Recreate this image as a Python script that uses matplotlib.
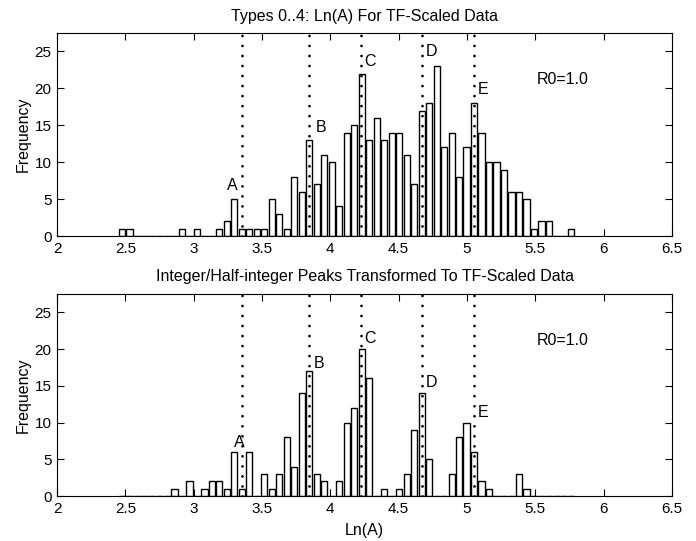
import numpy as np
import matplotlib
matplotlib.use("Agg")
import matplotlib.pyplot as plt

plt.rcParams['font.family'] = ['Liberation Sans', 'DejaVu Sans']

# bin grid (hist bin centers)
bin_start = 2.476
bin_width = 0.0548
n_bins = 61

# top panel: Types 0..4
top_counts = [1, 1, 0, 0, 0, 0, 0, 0, 1, 0, 1, 0, 0,
              1, 2, 5, 1, 1, 1, 1, 5, 3, 1, 8, 6, 13, 7, 11, 10, 4, 14, 15, 22, 13, 16,
              13, 14, 14, 11, 7, 17, 18, 23, 12, 14, 8, 12, 18, 14, 10, 10, 9, 6, 6, 5,
              1, 2, 2, 0, 0, 1]

# bottom panel: integer/half-integer peaks
bottom_counts = [0, 0, 0, 0, 0, 0, 0, 1, 0, 2, 0, 1, 2,
                 2, 1, 6, 1, 6, 0, 3, 1, 3, 8, 4, 14, 17, 3, 2, 0, 2, 10, 12, 20, 16,
                 0, 1, 0, 1, 3, 9, 14, 5, 0, 0, 3, 8, 10, 6, 2, 1, 0, 0, 0, 3, 1,
                 0, 0, 0, 0, 0, 0]

peak_x = [3.352, 3.846, 4.227, 4.668, 5.050]
peak_names = ['A', 'B', 'C', 'D', 'E']

top_label_x = [3.285, 3.931, 4.289, 4.741, 5.118]
top_label_y = [6.9, 14.7, 23.7, 25.0, 19.9]
bottom_label_x = [3.332, 3.914, 4.289, 4.741, 5.118]
bottom_label_y = [7.3, 18.1, 21.5, 15.4, 11.4]

titles = ["Types 0..4: Ln(A) For TF-Scaled Data",
          "Integer/Half-integer Peaks Transformed To TF-Scaled Data"]

centers = bin_start + bin_width * np.arange(n_bins)

fig = plt.figure(figsize=(6.96, 5.41), dpi=100)
W, H = 696, 541
ax_top = fig.add_axes([57 / W, 1 - 236 / H, (672 - 57) / W, (236 - 33) / H])
ax_bot = fig.add_axes([57 / W, 1 - 496 / H, (672 - 57) / W, (496 - 294) / H])

panels = [(ax_top, top_counts, top_label_x, top_label_y, titles[0]),
          (ax_bot, bottom_counts, bottom_label_x, bottom_label_y, titles[1])]

fs = 11.5
for ax, counts, lx, ly, title in panels:
    ax.bar(centers, counts, width=bin_width * 0.82, color='white',
           edgecolor='black', linewidth=1.0, zorder=2)
    for px in peak_x:
        ax.axvline(px, color='black', linewidth=2.0, linestyle=(0, (0.01, 3.6)),
                   dash_capstyle='round', zorder=3)
    for i, name in enumerate(peak_names):
        ax.text(lx[i], ly[i], name, fontsize=fs, ha='center', va='center', zorder=4)
    ax.text(5.70, 21.2, "R0=1.0", fontsize=fs, ha='center', va='center')
    ax.set_xlim(2, 6.5)
    ax.set_ylim(0, 27.5)
    ax.set_xticks(np.arange(2, 6.51, 0.5))
    ax.set_xticklabels(['2', '2.5', '3', '3.5', '4', '4.5', '5', '5.5', '6', '6.5'])
    ax.set_yticks([0, 5, 10, 15, 20, 25])
    ax.tick_params(direction='in', top=True, right=True, length=5, width=0.8,
                   labelsize=11, pad=4)
    ax.set_ylabel("Frequency", fontsize=fs, labelpad=3)
    ax.set_title(title, fontsize=fs, pad=9)
    for s in ax.spines.values():
        s.set_linewidth(0.8)

ax_bot.set_xlabel("Ln(A)", fontsize=fs, labelpad=5)

fig.savefig("out.png", dpi=100)
